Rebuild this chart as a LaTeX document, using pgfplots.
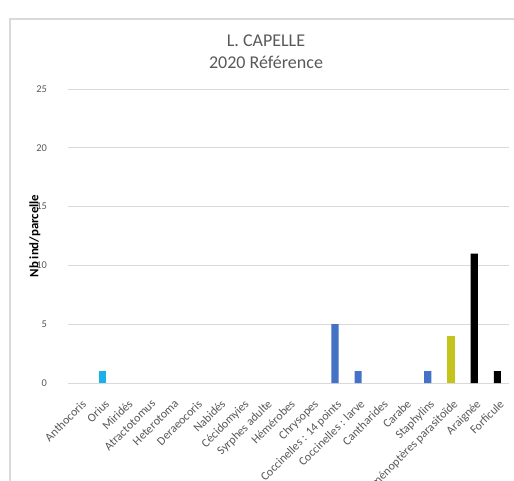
\documentclass[border=0pt]{standalone}
\usepackage{pgfplots}
\pgfplotsset{compat=1.18}
\usepackage{fontspec}
\setmainfont{Carlito}

\definecolor{txtgray}{HTML}{595959}
\definecolor{gridgray}{HTML}{D9D9D9}
\definecolor{frame}{HTML}{D9D9D9}
\definecolor{cyanbar}{HTML}{1CB0E8}
\definecolor{bluebar}{HTML}{4472C4}
\definecolor{olivebar}{HTML}{C4C41C}

\begin{document}
\begin{tikzpicture}[x=0.5pt,y=-0.5pt]
  % page area and chart frame
  \useasboundingbox (0,0) rectangle (514,481);
  \fill[white] (0,0) rectangle (514,481);
  \draw[frame,line width=0.6pt] (10,481) -- (10,19) -- (514,19);
  % title
  \node[txtgray,font=\fontsize{9}{11}\selectfont,align=center] at (266,52)
    {L. CAPELLE\\2020 Référence};
  \begin{axis}[
    at={(68*0.5pt,-383*0.5pt)}, anchor=south west,
    scale only axis,
    width=220.5pt, height=147pt,
    xmin=-0.5, xmax=18.5,
    ymin=0, ymax=25,
    ytick={0,5,10,15,20,25},
    xtick={0,...,18},
    xticklabels={Anthocoris, Orius, Miridés, Atractotomus, Heterotoma,
      Deraeocoris, Nabidés, Cécidomyies, Syrphes adulte, Hémérobes,
      Chrysopes, Coccinelles : 14 points, Coccinelles : larve, Cantharides,
      Carabe, Staphylins, Hyménoptères parasitoïde, Araignée, Forficule},
    x tick label style={rotate=45, anchor=north east, inner sep=1pt,
      font=\fontsize{6}{7}\selectfont, text=txtgray, xshift=1pt},
    y tick label style={font=\fontsize{5.2}{6}\selectfont, text=txtgray},
    /pgf/number format/assume math mode=true,
    ymajorgrids,
    grid style={gridgray, line width=0.5pt},
    axis line style={draw=none},
    axis x line*=bottom,
    axis y line*=left,
    tick align=outside,
    major tick length=7pt,
    tick style={draw=none},
    ylabel={\textbf{Nb ind/parcelle}},
    ylabel style={font=\fontsize{6.4}{7.5}\selectfont, text=black, anchor=center,
      at={(axis description cs:-0.075,0.5)}},
    ybar, bar width=3.6pt,
    clip=false,
  ]
    \draw[gridgray,line width=0.5pt] (axis cs:-0.5,0) -- (axis cs:18.5,0);
    \addplot[fill=cyanbar, draw=none, bar shift=0pt] coordinates {(1,1)};
    \addplot[fill=bluebar, draw=none, bar shift=0pt] coordinates {(11,5) (12,1) (15,1)};
    \addplot[fill=olivebar, draw=none, bar shift=0pt] coordinates {(16,4)};
    \addplot[fill=black, draw=none, bar shift=0pt] coordinates {(17,11) (18,1)};
  \end{axis}
\end{tikzpicture}
\end{document}
